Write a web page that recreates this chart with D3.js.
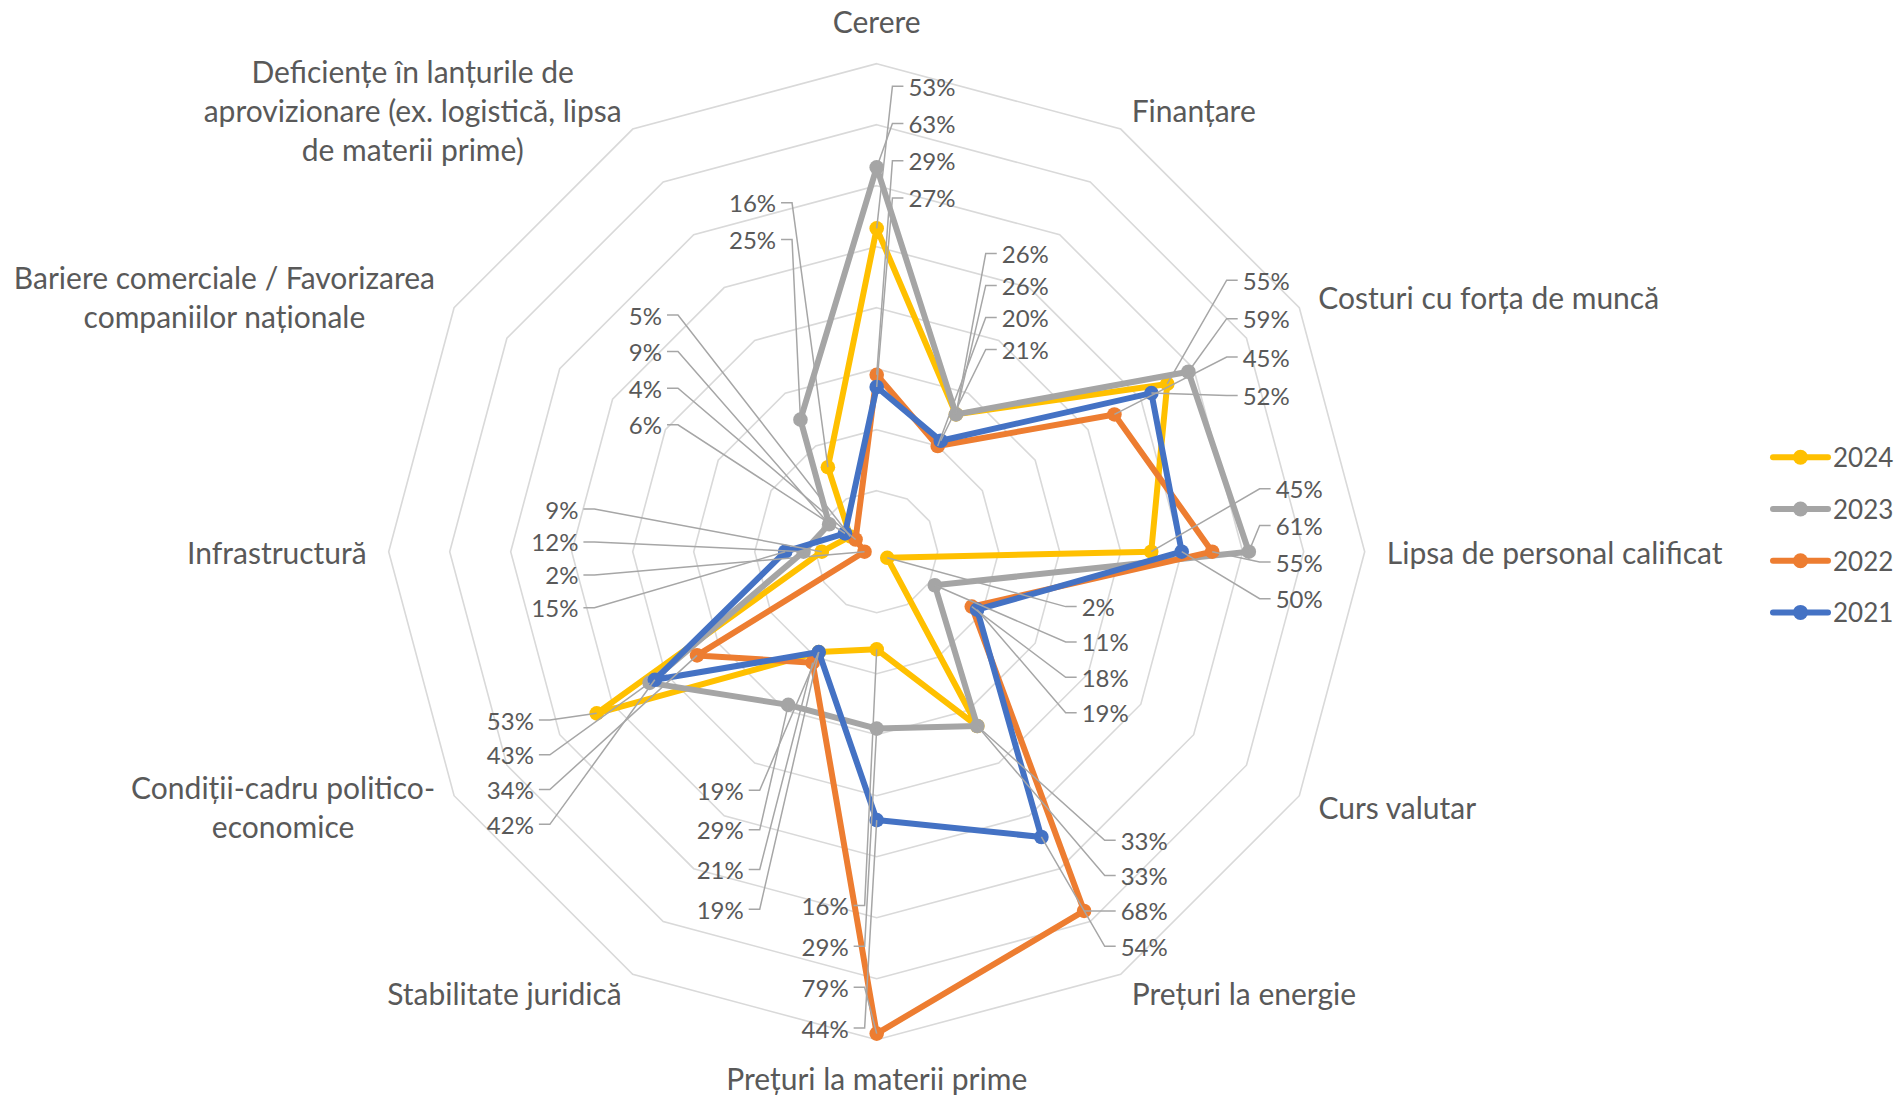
<!DOCTYPE html>
<html><head><meta charset="utf-8">
<script src="https://cdn.jsdelivr.net/npm/d3@7"></script>
<style>html,body{margin:0;padding:0;background:#fff;} svg{display:block}</style>
</head><body>
<svg id="chart" width="1901" height="1096"></svg>
<script>
// ---------- DATA ----------
const categories = [
  "Cerere",
  "Finanțare",
  "Costuri cu forța de muncă",
  "Lipsa de personal calificat",
  "Curs valutar",
  "Prețuri la energie",
  "Prețuri la materii prime",
  "Stabilitate juridică",
  "Condiții-cadru politico-economice",
  "Infrastructură",
  "Bariere comerciale / Favorizarea companiilor naționale",
  "Deficiențe în lanțurile de aprovizionare (ex. logistică, lipsa de materii prime)"
];
const categoryLines = [
  ["Cerere"],
  ["Finanțare"],
  ["Costuri cu forța de muncă"],
  ["Lipsa de personal calificat"],
  ["Curs valutar"],
  ["Prețuri la energie"],
  ["Prețuri la materii prime"],
  ["Stabilitate juridică"],
  ["Condiții-cadru politico-", "economice"],
  ["Infrastructură"],
  ["Bariere comerciale / Favorizarea", "companiilor naționale"],
  ["Deficiențe în lanțurile de", "aprovizionare (ex. logistică, lipsa", "de materii prime)"]
];
const seriesNames = ["2024", "2023", "2022", "2021"];
const values2024 = [53, 26, 55, 45, 2, 33, 16, 19, 53, 9, 5, 16];
const values2023 = [63, 26, 59, 61, 11, 33, 29, 29, 43, 12, 9, 25];
const values2022 = [29, 20, 45, 55, 18, 68, 79, 21, 34, 2, 4, null];
const values2021 = [27, 21, 52, 50, 19, 54, 44, 19, 42, 15, 6, null];
const gridTicks = [10, 20, 30, 40, 50, 60, 70, 80];

// ---------- STYLE / LAYOUT ----------
const colors = ["#FFC000", "#A5A5A5", "#ED7D31", "#4472C4"];
const FONT = "Lato, 'Open Sans', sans-serif";
const textColor = "#595959";
// data-label stack placement per category, in value units (%) relative to centre
const labelLayout = [
  {x: 5.2,  y: -76.3, step: 6.1, side: "start"},
  {x: 20.5, y: -48.9, step: 5.25, side: "start"},
  {x: 60.0, y: -44.5, step: 6.3, side: "start"},
  {x: 65.4, y: -10.3, step: 6.0, side: "start"},
  {x: 33.6, y: 9.0,   step: 5.8, side: "start"},
  {x: 40.0, y: 47.3,  step: 5.8, side: "start"},
  {x: -4.6, y: 58.0,  step: 6.7, side: "end"},
  {x: -21.8, y: 39.1, step: 6.5, side: "end"},
  {x: -56.2, y: 27.6, step: 5.7, side: "end"},
  {x: -48.9, y: -7.0, step: 5.4, side: "end"},
  {x: -35.2, y: -38.8, step: 6.0, side: "end"},
  {x: -16.5, y: -57.2, step: 6.0, side: "end"}
];

const cx = 876.7, cy = 551.7;
const r = d3.scaleLinear().domain([0, 80]).range([0, 488]);
const angle = d3.scaleLinear().domain([0, categories.length]).range([0, 2 * Math.PI]);
const pt = (i, v) => { const a = angle(i); return [r(v) * Math.sin(a), -r(v) * Math.cos(a)]; };

const svg = d3.select("#chart");
svg.append("rect").attr("width", 1901).attr("height", 1096).attr("fill", "#fff");
const g = svg.append("g").attr("transform", `translate(${cx},${cy})`);

// grid rings
const ringLine = d3.lineRadial().angle((d, i) => angle(i)).curve(d3.curveLinearClosed);
g.append("g").selectAll("path").data(gridTicks).join("path")
  .attr("d", t => ringLine.radius(() => r(t))(categories))
  .attr("fill", "none").attr("stroke", "#D9D9D9").attr("stroke-width", 1.6);

// series
const seriesValues = [values2024, values2023, values2022, values2021];
const series = seriesNames.map((n, k) => ({name: n, color: colors[k], values: seriesValues[k]}));
const serLine = d3.lineRadial().angle(d => angle(d.i)).radius(d => r(d.v)).curve(d3.curveLinearClosed);
const serG = g.append("g");
series.forEach(s => {
  const pts = s.values.map((v, i) => ({i, v})).filter(d => d.v != null);
  serG.append("path").attr("d", serLine(pts))
    .attr("fill", "none").attr("stroke", s.color).attr("stroke-width", 6)
    .attr("stroke-linejoin", "round");
  serG.append("g").selectAll("circle").data(pts).join("circle")
    .attr("cx", d => pt(d.i, d.v)[0]).attr("cy", d => pt(d.i, d.v)[1])
    .attr("r", 7.3).attr("fill", s.color);
});

// data labels with leader lines
const leadG = g.append("g");
const labG = g.append("g").attr("font-family", FONT).attr("font-size", 24).attr("fill", textColor);
categories.forEach((c, i) => {
  const L = labelLayout[i];
  let k = 0;
  series.forEach(s => {
    const v = s.values[i];
    if (v == null) return;
    const lx = r(L.x), ly = r(L.y + k * L.step);
    k++;
    const [px, py] = pt(i, v);
    const dir = L.side === "start" ? -1 : 1;
    const e1 = lx + dir * 5, e2 = lx + dir * 16;
    leadG.append("polyline").attr("points", [[px, py], [e2, ly], [e1, ly]].map(p => p.join(",")).join(" "))
      .attr("fill", "none").attr("stroke", "#A6A6A6").attr("stroke-width", 1.5);
    labG.append("text").attr("x", lx).attr("y", ly)
      .attr("text-anchor", L.side).attr("dominant-baseline", "central").text(v + "%");
  });
});

// category labels
const catG = g.append("g").attr("font-family", FONT).attr("font-size", 30).attr("fill", textColor);
const lh = 38.8;
categories.forEach((c, i) => {
  const a = angle(i), sa = Math.sin(a), ca = Math.cos(a);
  const R = r(80) + 22;
  let ax = R * sa, ay = -R * ca;
  const lines = categoryLines[i];
  const n = lines.length;
  if (Math.abs(sa) < 0.01) ay += (ca > 0 ? -1 : 1) * n * lh / 2 * (ca > 0 ? 1.05 : 0.82);
  const t = catG.append("text").attr("text-anchor", "middle");
  lines.forEach((ln, j) => {
    t.append("tspan").attr("x", 0).attr("y", ay + (j - (n - 1) / 2) * lh)
      .attr("dominant-baseline", "central").text(ln);
  });
  const w = t.node().getBBox().width;
  let x = ax;
  if (sa > 0.01) x = ax + w / 2; else if (sa < -0.01) x = ax - w / 2;
  t.selectAll("tspan").attr("x", x);
});

// legend
const legendX = 1773, legendY = 457.3, legendStep = 51.7;
const legG = svg.append("g").attr("font-family", FONT).attr("font-size", 26).attr("fill", textColor);
series.forEach((s, k) => {
  const y = legendY + k * legendStep;
  legG.append("line").attr("x1", legendX).attr("x2", legendX + 55).attr("y1", y).attr("y2", y)
    .attr("stroke", s.color).attr("stroke-width", 6).attr("stroke-linecap", "round");
  legG.append("circle").attr("cx", legendX + 27.5).attr("cy", y).attr("r", 7.5).attr("fill", s.color);
  legG.append("text").attr("x", legendX + 60).attr("y", y).attr("dominant-baseline", "central").text(s.name);
});
</script>
</body></html>
